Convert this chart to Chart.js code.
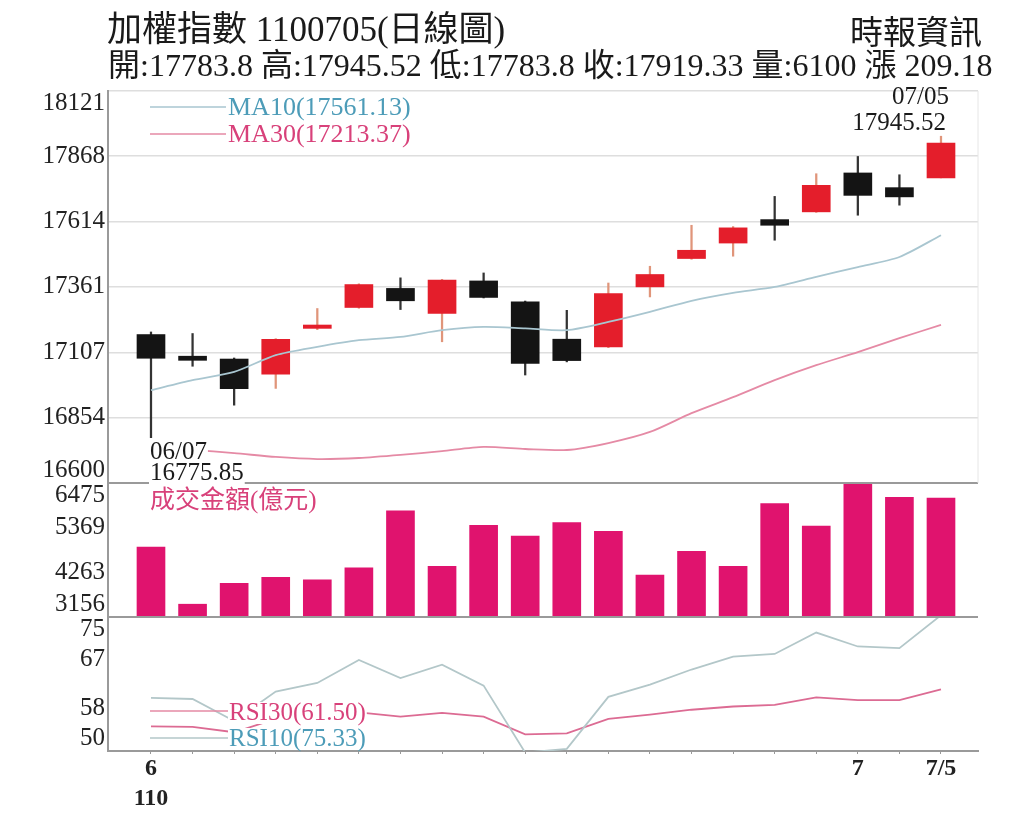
<!DOCTYPE html>
<html>
<head>
<meta charset="UTF-8">
<title>加權指數 日線圖</title>
<script src="https://cdn.jsdelivr.net/npm/chart.js"></script>
<style>
  html, body { margin: 0; padding: 0; background: #fff; }
  #wrap { position: relative; width: 1024px; height: 837px; }
</style>
</head>
<body>
<div id="wrap"><canvas id="kChart"></canvas></div>
<script>
// trading days 110/06/07 - 110/07/05
var days = ['06/07', '06/08', '06/09', '06/10', '06/11', '06/15', '06/16', '06/17', '06/18', '06/21',
            '06/22', '06/23', '06/24', '06/25', '06/28', '06/29', '06/30', '07/01', '07/02', '07/05'];
var xLabels = [['6', '110'], '', '', '', '', '', '', '', '', '', '', '', '', '', '', '', '', '7', '', '7/5'];

var openP  = [17176, 17092, 17081, 17022, 17200, 17281, 17355, 17258, 17384, 17303,
              17158, 17128, 17361, 17471, 17531, 17622, 17652, 17803, 17746, 17783.8];
var highP  = [17186, 17180, 17085, 17160, 17277, 17373, 17396, 17390, 17415, 17306,
              17270, 17376, 17441, 17600, 17595, 17712, 17800, 17867, 17796, 17945.52];
var lowP   = [16775.85, 17053, 16902, 16967, 17195, 17278, 17273, 17148, 17318, 17019,
              17070, 17125, 17322, 17468, 17480, 17542, 17650, 17639, 17678, 17783.8];
var closeP = [17084, 17076, 16966, 17157, 17213, 17370, 17307, 17387, 17320, 17064,
              17075, 17335, 17409, 17503, 17590, 17600, 17755, 17716, 17710.15, 17919.33];

var ma10 = [16960, 16999, 17031, 17096, 17128, 17154, 17167, 17193, 17206, 17200,
            17193, 17225, 17264, 17307, 17338, 17361, 17400, 17438, 17477, 17561.13];
var ma30 = [16736, 16728, 16716, 16701, 16693, 16697, 16709, 16724, 16740, 16732,
            16728, 16755, 16798, 16871, 16933, 16999, 17057, 17108, 17162, 17213.37];

// 成交金額(億元)
var volume = [4885, 3473, 3987, 4137, 4079, 4371, 5783, 4411, 5426, 5159,
              5494, 5277, 4196, 4785, 4411, 5968, 5409, 6470, 6118, 6100];

var rsi10 = [59.9, 59.7, 55.6, 61.1, 62.7, 67.0, 63.6, 66.1, 62.2, 49.7,
             50.4, 60.1, 62.4, 65.2, 67.6, 68.1, 72.1, 69.5, 69.2, 75.33];
var rsi30 = [54.6, 54.5, 53.5, 56.0, 56.8, 57.2, 56.4, 57.1, 56.4, 53.1,
             53.3, 56.0, 56.8, 57.7, 58.3, 58.6, 60.0, 59.5, 59.5, 61.50];

var priceTicks = [16600, 16854, 17107, 17361, 17614, 17868, 18121];
var volTicks = [3156, 4263, 5369, 6475];
var rsiTicks = [50, 58, 67, 75];

var RED = '#e41e2b', BLACK = '#141414', PINK = '#d8417a', BLUE = '#4d9cb8';
var SERIF = '"Liberation Serif", "Noto Sans CJK TC"';

var up = closeP.map(function (c, i) { return c >= openP[i]; });

function pts(arr) {
  return arr.map(function (v, i) { return {x: i, y: v}; });
}
function span(a, b) {
  return a.map(function (v, i) { return {x: i, y: [Math.min(v, b[i]), Math.max(v, b[i])]}; });
}
function fixTicks(list) {
  return function (s) { s.ticks = list.map(function (v) { return {value: v}; }); };
}

function boxText(ctx, txt, x, y) {
  var w = ctx.measureText(txt).width;
  var keep = ctx.fillStyle;
  ctx.fillStyle = '#fff';
  ctx.fillRect(x - 1, y - 11, w + 2, 22);
  ctx.fillStyle = keep;
  ctx.fillText(txt, x, y);
}

var overlay = {
  id: 'overlay',
  afterDraw: function (chart) {
    var ctx = chart.ctx, s = chart.scales, area = chart.chartArea;
    ctx.save();

    // panel separators
    ctx.strokeStyle = '#9a9a9a';
    ctx.lineWidth = 2;
    [s.yVol.top, s.yRsi.top].forEach(function (y) {
      ctx.beginPath(); ctx.moveTo(area.left, y); ctx.lineTo(area.right, y); ctx.stroke();
    });
    ctx.strokeStyle = '#e6e6e6';
    ctx.lineWidth = 1;
    ctx.beginPath(); ctx.moveTo(area.right, area.top); ctx.lineTo(area.right, s.yVol.top); ctx.stroke();

    // y tick labels, end labels kept inside their panel
    ctx.font = '25px ' + SERIF;
    ctx.fillStyle = '#222';
    ctx.textAlign = 'right';
    [[s.yPrice, priceTicks], [s.yVol, volTicks], [s.yRsi, rsiTicks]].forEach(function (p) {
      p[1].forEach(function (v, i) {
        ctx.textBaseline = i === p[1].length - 1 ? 'top' : (i === 0 ? 'bottom' : 'middle');
        ctx.fillText(String(v), area.left - 3, p[0].getPixelForValue(v));
      });
    });

    // MA legend
    ctx.textAlign = 'left';
    ctx.textBaseline = 'middle';
    ctx.font = '26px ' + SERIF;
    ctx.lineWidth = 1.5;
    ctx.strokeStyle = '#a9c6d0';
    ctx.beginPath(); ctx.moveTo(150, 107); ctx.lineTo(226, 107); ctx.stroke();
    ctx.strokeStyle = '#e58aa5';
    ctx.beginPath(); ctx.moveTo(150, 134); ctx.lineTo(226, 134); ctx.stroke();
    ctx.fillStyle = BLUE;
    ctx.fillText('MA10(' + ma10[ma10.length - 1].toFixed(2) + ')', 228, 108);
    ctx.fillStyle = PINK;
    ctx.fillText('MA30(' + ma30[ma30.length - 1].toFixed(2) + ')', 228, 135);

    // high / low notes
    var last = days.length - 1;
    var hx = s.x.getPixelForValue(last), hy = s.yPrice.getPixelForValue(highP[last]);
    ctx.font = '25px ' + SERIF;
    ctx.fillStyle = '#1a1a1a';
    ctx.textAlign = 'right';
    ctx.fillText(days[last], hx + 8, hy - 39);
    ctx.fillText(highP[last].toFixed(2), hx + 5, hy - 13);
    var lx = s.x.getPixelForValue(0), ly = s.yPrice.getPixelForValue(lowP[0]);
    ctx.textAlign = 'left';
    boxText(ctx, days[0], lx - 1, ly + 15);
    boxText(ctx, lowP[0].toFixed(2), lx - 1, ly + 36);

    // volume title
    ctx.fillStyle = PINK;
    ctx.font = '25px ' + SERIF;
    ctx.fillText('成交金額(億元)', 150, s.yVol.top + 18, 182);

    // RSI legend
    ctx.lineWidth = 1.5;
    ctx.strokeStyle = '#e58aa5';
    ctx.beginPath(); ctx.moveTo(150, 711); ctx.lineTo(228, 711); ctx.stroke();
    ctx.strokeStyle = '#b3c7c9';
    ctx.beginPath(); ctx.moveTo(150, 738); ctx.lineTo(228, 738); ctx.stroke();
    ctx.fillStyle = PINK;
    boxText(ctx, 'RSI30(' + rsi30[last].toFixed(2) + ')', 229, 713);
    ctx.fillStyle = BLUE;
    boxText(ctx, 'RSI10(' + rsi10[last].toFixed(2) + ')', 229, 739);

    // header
    ctx.fillStyle = '#1a1a1a';
    ctx.textBaseline = 'middle';
    ctx.textAlign = 'left';
    ctx.font = '35px ' + SERIF;
    ctx.fillText('加權指數 1100705(日線圖)', 107, 32, 405);
    ctx.textAlign = 'right';
    ctx.font = '33px ' + SERIF;
    ctx.fillText('時報資訊', 982, 35);
    ctx.textAlign = 'left';
    ctx.font = '32px ' + SERIF;
    var chg = (closeP[last] - closeP[last - 1]).toFixed(2);
    ctx.fillText('開:' + openP[last] + ' 高:' + highP[last] + ' 低:' + lowP[last] +
      ' 收:' + closeP[last] + ' 量:' + volume[last] + ' 漲 ' + chg, 108, 68, 886);

    ctx.restore();
  }
};

var yBase = {
  type: 'linear',
  position: 'left',
  stack: 'k',
  ticks: {display: false},
  border: {display: true, color: '#9a9a9a', width: 2},
  afterFit: function (s) { s.width = 108; }
};

var kChart = new Chart(document.getElementById('kChart'), {
  type: 'bar',
  data: {
    datasets: [
      {
        type: 'line', label: 'MA10', data: pts(ma10), yAxisID: 'yPrice',
        borderColor: '#a9c6d0', borderWidth: 1.8, pointRadius: 0, tension: 0.25, order: 0
      },
      {
        type: 'line', label: 'MA30', data: pts(ma30), yAxisID: 'yPrice',
        borderColor: '#e58aa5', borderWidth: 1.8, pointRadius: 0, tension: 0.25, order: 0
      },
      {
        label: 'body', data: span(openP, closeP), yAxisID: 'yPrice', grouped: false,
        barThickness: 28, order: 1,
        backgroundColor: up.map(function (u) { return u ? RED : BLACK; })
      },
      {
        label: 'wick', data: span(lowP, highP), yAxisID: 'yPrice', grouped: false,
        barThickness: 1.6, order: 2,
        backgroundColor: up.map(function (u) { return u ? '#e0957a' : '#333'; })
      },
      {
        label: '成交金額', yAxisID: 'yVol', grouped: false, barThickness: 28, order: 3,
        data: volume.map(function (v, i) { return {x: i, y: [volTicks[0], v]}; }),
        backgroundColor: '#e0136e'
      },
      {
        type: 'line', label: 'RSI10', data: pts(rsi10), yAxisID: 'yRsi',
        borderColor: '#b3c7c9', borderWidth: 1.8, pointRadius: 0, tension: 0, order: 0
      },
      {
        type: 'line', label: 'RSI30', data: pts(rsi30), yAxisID: 'yRsi',
        borderColor: '#dc6b93', borderWidth: 1.8, pointRadius: 0, tension: 0, order: 0
      }
    ]
  },
  options: {
    responsive: true,
    maintainAspectRatio: false,
    animation: false,
    layout: {padding: {left: 0, right: 46, top: 91, bottom: 0}},
    plugins: {legend: {display: false}, tooltip: {enabled: false}},
    scales: {
      x: {
        type: 'linear',
        offset: false,
        min: -1.034,
        max: 19.89,
        afterBuildTicks: fixTicks(days.map(function (d, i) { return i; })),
        afterFit: function (s) { s.height = 86; },
        grid: {drawOnChartArea: false, drawTicks: true, tickLength: 3, color: '#999', offset: false},
        border: {display: true, color: '#9a9a9a', width: 2},
        ticks: {
          autoSkip: false, maxRotation: 0, padding: 0, color: '#222',
          font: {family: 'Liberation Serif', size: 24, weight: 'bold', lineHeight: 1.25},
          callback: function (v) { return xLabels[v]; }
        }
      },
      yRsi: Object.assign({}, yBase, {
        min: rsiTicks[0], max: rsiTicks[rsiTicks.length - 1], stackWeight: 134,
        afterBuildTicks: fixTicks(rsiTicks), grid: {display: false}
      }),
      yVol: Object.assign({}, yBase, {
        min: volTicks[0], max: volTicks[volTicks.length - 1], stackWeight: 134,
        afterBuildTicks: fixTicks(volTicks), grid: {display: false}
      }),
      yPrice: Object.assign({}, yBase, {
        min: priceTicks[0], max: priceTicks[priceTicks.length - 1], stackWeight: 392,
        afterBuildTicks: fixTicks(priceTicks),
        grid: {color: '#dedede', lineWidth: 1.5, drawTicks: false}
      })
    }
  },
  plugins: [overlay]
});
</script>
</body>
</html>
